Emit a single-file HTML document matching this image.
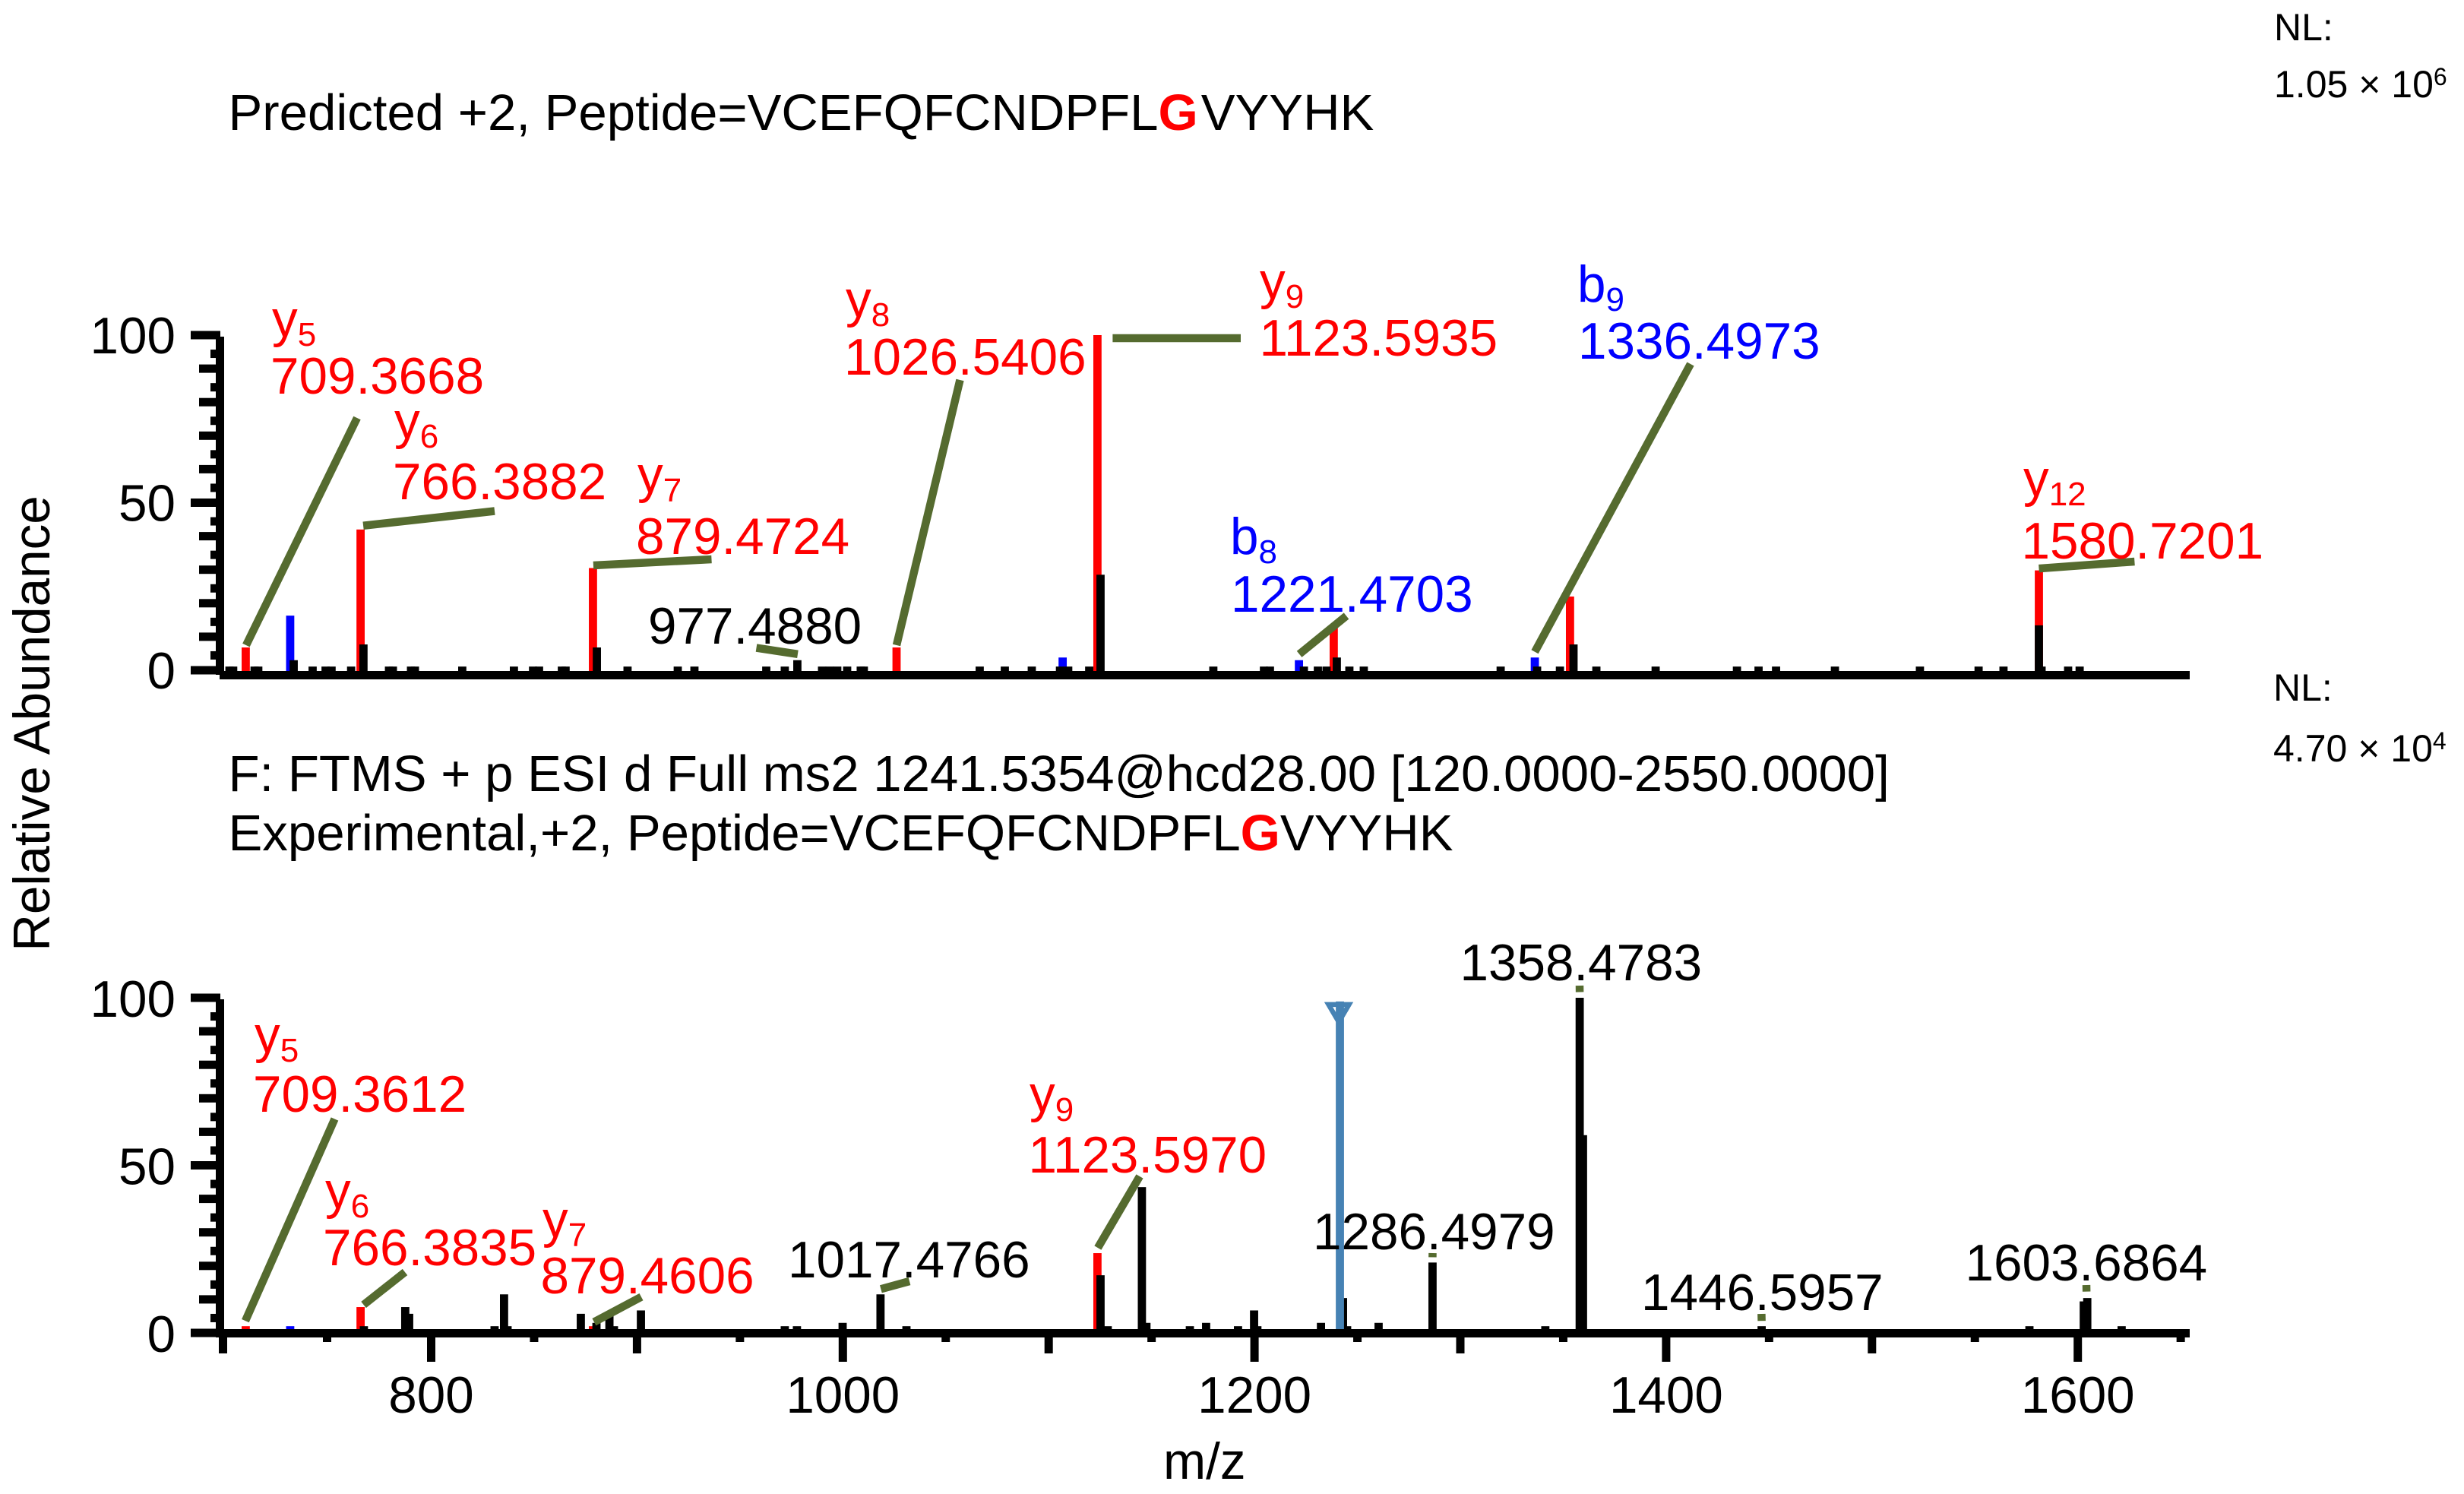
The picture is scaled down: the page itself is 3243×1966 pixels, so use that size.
<!DOCTYPE html>
<html lang="en">
<head>
<meta charset="utf-8">
<title>Predicted and experimental MS2 spectra</title>
<style>
html,body{margin:0;padding:0;background:#fff;width:3243px;height:1966px;overflow:hidden}
svg{display:block;position:absolute;left:0;top:0}
text{font-family:"Liberation Sans",Arial,sans-serif;font-size:67.4px;fill:#000}
text.t{font-size:67.15px}
.r,.r tspan{fill:#f00}
.b,.b tspan{fill:#00f}
.sub{font-size:44px}
.nl{font-size:50px}
</style>
</head>
<body>
<svg id="chart" xmlns="http://www.w3.org/2000/svg" width="3243" height="1966" viewBox="0 0 3243 1966">
<g id="marks"></g>

<text class="t" x="300.5" y="171">Predicted +2, Peptide=VCEFQFCNDPFL<tspan font-weight="bold" fill="#f00" style="fill:#f00">G</tspan><tspan dx="4">VYYHK</tspan></text>
<text class="t" x="300.5" y="1041">F: FTMS + p ESI d Full ms2 1241.5354@hcd28.00 [120.0000-2550.0000]</text>
<text class="t" x="300.5" y="1119">Experimental,+2, Peptide=VCEFQFCNDPFL<tspan font-weight="bold" fill="#f00" style="fill:#f00">G</tspan>VYYHK</text>

<text class="nl" x="2993" y="53">NL:</text>
<text class="nl" x="2993" y="128">1.05 × 10<tspan font-size="32" dy="-16">6</tspan></text>
<text class="nl" x="2992" y="922">NL:</text>
<text class="nl" x="2992" y="1002">4.70 × 10<tspan font-size="32" dy="-16">4</tspan></text>

<text transform="translate(65,952) rotate(-90)" text-anchor="middle">Relative Abundance</text>
<text x="1531" y="1946">m/z</text>

<!-- top panel labels -->
<g>
<text class="r" x="358" y="443">y<tspan class="sub" dy="12">5</tspan></text>
<text class="r" x="356" y="518">709.3668</text>
<text class="r" x="519" y="577">y<tspan class="sub" dy="12">6</tspan></text>
<text class="r" x="517" y="657">766.3882</text>
<text class="r" x="839" y="648">y<tspan class="sub" dy="12">7</tspan></text>
<text class="r" x="837" y="729">879.4724</text>
<text x="853" y="847">977.4880</text>
<text class="r" x="1113" y="417">y<tspan class="sub" dy="12">8</tspan></text>
<text class="r" x="1111" y="493">1026.5406</text>
<text class="r" x="1658" y="393">y<tspan class="sub" dy="12">9</tspan></text>
<text class="r" x="1657.5" y="468">1123.5935</text>
<text class="b" x="1619" y="729">b<tspan class="sub" dy="12">8</tspan></text>
<text class="b" x="1620" y="805">1221.4703</text>
<text class="b" x="2076" y="397">b<tspan class="sub" dy="12">9</tspan></text>
<text class="b" x="2077" y="472">1336.4973</text>
<text class="r" x="2663" y="653">y<tspan class="sub" dy="12">12</tspan></text>
<text class="r" x="2660.5" y="735">1580.7201</text>
</g>

<!-- bottom panel labels -->
<g>
<text class="r" x="335" y="1385">y<tspan class="sub" dy="12">5</tspan></text>
<text class="r" x="333" y="1463">709.3612</text>
<text class="r" x="428" y="1590">y<tspan class="sub" dy="12">6</tspan></text>
<text class="r" x="425" y="1665">766.3835</text>
<text class="r" x="714" y="1628">y<tspan class="sub" dy="12">7</tspan></text>
<text class="r" x="711.5" y="1702">879.4606</text>
<text x="1037" y="1681">1017.4766</text>
<text class="r" x="1355" y="1463">y<tspan class="sub" dy="12">9</tspan></text>
<text class="r" x="1353.5" y="1543">1123.5970</text>
<text x="1921.5" y="1290">1358.4783</text>
<text x="1728" y="1644">1286.4979</text>
<text x="2160" y="1724">1446.5957</text>
<text x="2586.5" y="1685">1603.6864</text>
</g>
</svg>

<script>
// ---------- data ----------
const xTickLabels = [800, 1000, 1200, 1400, 1600];
const yTickLabels = [0, 50, 100];

// top panel
const topRedMz = [709.9, 765.7, 878.6, 1026.1, 1123.7, 1238.5, 1353.3, 1581.1];
const topRedIntensity = [6.8, 42, 30.5, 6.8, 100, 13, 22, 29.8];
const topBlueMz = [731.5, 1106.8, 1221.6, 1336.2];
const topBlueIntensity = [16.3, 3.8, 3, 3.8];
const topBlackMz = [733.2, 767.1, 880.5, 977.9, 1125.2, 1240, 1355, 1581.1,
  702, 703.8, 714.2, 716, 742.4, 748.7, 751.6, 761.1, 779.5, 781.4, 790.2, 792.1,
  815.1, 840.2, 849.5, 852.4, 863.5, 865.3, 895.4, 919.8, 927.9, 962.8, 971.8,
  989.9, 993.6, 997.3, 1002.1, 1008.7, 1010.2, 1066.5, 1078.7, 1091.8, 1105.5,
  1109.5, 1119.7, 1180, 1204.6, 1207.5, 1224, 1230.8, 1235, 1246.1, 1253.1,
  1319.6, 1337.3, 1348.4, 1366.1, 1394.9, 1434.4, 1444.9, 1453.4, 1482, 1523.3,
  1551.8, 1563.9, 1582.4, 1595.3, 1600.9];
const topBlackIntensity = [3, 7.7, 6.8, 3, 28.5, 3.8, 7.7, 13.4,
  1.1, 1.1, 1.1, 1.1, 1.1, 1.1, 1.1, 1.1, 1.1, 1.1, 1.1, 1.1,
  1.1, 1.1, 1.1, 1.1, 1.1, 1.1, 1.1, 1.1, 1.1, 1.1, 1.1,
  1.1, 1.1, 1.1, 1.1, 1.1, 1.1, 1.1, 1.1, 1.1, 1.1,
  1.1, 1.1, 1.1, 1.1, 1.1, 1.1, 1.1, 1.1, 1.1, 1.1,
  1.1, 1.1, 1.1, 1.1, 1.1, 1.1, 1.1, 1.1, 1.1, 1.1,
  1.1, 1.1, 1.1, 1.1, 1.1];

// bottom panel
const bottomRedMz = [709.9, 765.7, 878.6, 1123.7];
const bottomRedIntensity = [2, 7.7, 2, 23.8];
const bottomBlueMz = [731.5];
const bottomBlueIntensity = [2];
const bottomBlackMz = [767.3, 787.4, 789.3, 830.8, 835.4, 837.1, 872.7, 880.3, 886.6,
  888.8, 901.9, 971.8, 977.7, 999.9, 1018.3, 1030.9, 1125.2, 1128.7, 1145.3, 1147.5,
  1168.6, 1176.5, 1192, 1199.8, 1201.4, 1232.3, 1243, 1245, 1260.3, 1286.5, 1341.3,
  1358, 1359.6, 1446.4, 1576.5, 1602.9, 1604.6, 1621.3];
const bottomBlackIntensity = [2, 7.7, 5.7, 2, 11.5, 2, 5.7, 3, 5,
  2, 6.7, 2, 2, 3, 11.5, 2, 17.2, 2, 43.5, 3,
  2, 3, 2, 6.7, 2, 3, 10.4, 2, 3, 21, 2,
  100, 59, 2, 2, 9.4, 10.4, 2];
const precursorMz = [1241.5];
const precursorIntensity = [98.9];

// ---------- callout layout (pixels; separate from the data) ----------
const topCalloutPeaks = [
  [topRedMz, topRedIntensity, 0], [topRedMz, topRedIntensity, 1], [topRedMz, topRedIntensity, 2],
  [topBlackMz, topBlackIntensity, 3], [topRedMz, topRedIntensity, 3], [topRedMz, topRedIntensity, 4],
  [topBlueMz, topBlueIntensity, 2], [topBlueMz, topBlueIntensity, 3], [topRedMz, topRedIntensity, 7]
];
const topCalloutLayout = [
  {dx: 0.5, gap: 3, ex: 470, ey: 550}, {dx: 3.5, gap: 5, ex: 651, ey: 672.5},
  {dx: 0.5, gap: 3.5, ex: 936.5, ey: 736}, {dx: 0.5, gap: 8, ex: 995.5, ey: 852.6},
  {dx: 0, gap: 3, ex: 1263.5, ey: 500}, {dx: 20, gap: -4, ex: 1633, ey: 445},
  {dx: 0.5, gap: 8, ex: 1772, ey: 810.5}, {dx: 0, gap: 7.5, ex: 2225, ey: 479},
  {dx: 0, gap: 2.5, ex: 2809.4, ey: 739}
];
const bottomCalloutPeaks = [
  [bottomRedMz, bottomRedIntensity, 0], [bottomRedMz, bottomRedIntensity, 1], [bottomRedMz, bottomRedIntensity, 2],
  [bottomBlackMz, bottomBlackIntensity, 14], [bottomRedMz, bottomRedIntensity, 3], [bottomBlackMz, bottomBlackIntensity, 29],
  [bottomBlackMz, bottomBlackIntensity, 31], [bottomBlackMz, bottomBlackIntensity, 33], [bottomBlackMz, bottomBlackIntensity, 36]
];
const bottomCalloutLayout = [
  {dx: -0.5, gap: 7, ex: 440.5, ey: 1472.5}, {dx: 4, gap: 3, ex: 533, ey: 1674},
  {dx: 1.5, gap: 5.5, ex: 844, ey: 1706.6}, {dx: 0.5, gap: 7, ex: 1197, ey: 1686},
  {dx: 0.5, gap: 7, ex: 1500, ey: 1548}, {dx: 0, gap: 7, ex: 1885.5, ey: 1649},
  {dx: 0, gap: 7.5, ex: 2079, ey: 1297}, {dx: 0, gap: 7, ex: 2318.4, ey: 1729},
  {dx: -1, gap: 8.5, ex: 2746, ey: 1691}
];

// ---------- axis functions ----------
const SVGNS = 'http://www.w3.org/2000/svg';
const root = document.getElementById('marks');
const OLIVE = '#556B2F';
function xScale(mz) { return 567.5 + (mz - 800) * 2.709; }
function xTickPos(mz) { return mz < 800 ? 567.5 + (mz - 800) * 2.74 : xScale(mz); }
function yTop(v) { return 882 - v * 4.41; }
function yBottom(v) { return 1754 - v * 4.41; }

function mk(tag, attrs, parent) {
  const el = document.createElementNS(SVGNS, tag);
  for (const k in attrs) el.setAttribute(k, attrs[k]);
  (parent || root).appendChild(el);
  return el;
}

function drawBars(mzs, vals, color, yFn, label) {
  for (let i = 0; i < mzs.length; i++) {
    const yy = yFn(vals[i]);
    const el = mk('rect', {x: xScale(mzs[i]) - 5.4, y: yy, width: 10.8, height: yFn(0) - yy + 2, fill: color});
    
    
  }
}

function drawCallouts(peaks, layout, yFn, label) {
  for (let i = 0; i < peaks.length; i++) {
    const p = peaks[i], l = layout[i];
    const el = mk('line', {
      x1: xScale(p[0][p[2]]) + l.dx, y1: yFn(p[1][p[2]]) - l.gap,
      x2: l.ex, y2: l.ey, stroke: OLIVE, 'stroke-width': 10.5
    });
    
    
  }
}

function drawYAxis(yFn, label, labelOffset) {
  const spine = mk('rect', {x: 284, y: yFn(100) + 2, width: 11, height: yFn(0) - yFn(100) + 4, fill: '#000'});
  
  
  for (let v = 0; v <= 100; v += 5) {
    const left = v % 50 === 0 ? 251 : (v % 10 === 0 ? 262 : 277);
    const nudge = v % 10 === 0 ? 0 : 2.5;
    const t = mk('rect', {x: left, y: yFn(v) - 5.5 + nudge, width: 290 - left, height: 11, fill: '#000'});
    
    
  }
  yTickLabels.forEach(function (v) {
    const t = mk('text', {x: 231, y: yFn(v) + labelOffset, 'text-anchor': 'end'});
    t.textContent = String(v);
    
    
  });
}

function drawXLine(yFn, label, h) {
  const l = mk('rect', {x: 289, y: yFn(0) - h, width: 2593, height: 11, fill: '#000'});
  
  
}

// ---------- top panel ----------
drawBars(topRedMz, topRedIntensity, '#f00', yTop, 'top-y-ion-peak');
drawBars(topBlueMz, topBlueIntensity, '#00f', yTop, 'top-b-ion-peak');
drawBars(topBlackMz, topBlackIntensity, '#000', yTop, 'top-peak');
drawYAxis(yTop, 'top', 24);
drawXLine(yTop, 'top', -1);
drawCallouts(topCalloutPeaks, topCalloutLayout, yTop, 'top-label-leader');

// ---------- bottom panel ----------
drawBars(bottomRedMz, bottomRedIntensity, '#f00', yBottom, 'bottom-y-ion-peak');
drawBars(bottomBlueMz, bottomBlueIntensity, '#00f', yBottom, 'bottom-b-ion-peak');
drawBars(bottomBlackMz, bottomBlackIntensity, '#000', yBottom, 'bottom-peak');
drawBars(precursorMz, precursorIntensity, '#4682B4', yBottom, 'precursor-line');
const pX = xScale(precursorMz[0]) - 1.5;
const pY = yBottom(precursorIntensity[0]);
const marker = mk('polygon', {
  points: (pX - 13.5) + ',' + (pY + 4) + ' ' + (pX + 13.5) + ',' + (pY + 4) + ' ' + pX + ',' + (pY + 27),
  fill: 'none', stroke: '#4682B4', 'stroke-width': 6.5
});


drawYAxis(yBottom, 'bottom', 25);
drawXLine(yBottom, 'bottom', 5);
for (let m = 700; m <= 1650; m += 50) {
  const bottom = m % 200 === 0 ? 1792 : (m % 100 === 0 ? 1781 : 1766);
  const t = mk('rect', {x: xTickPos(m) - 5.5, y: 1759, width: 11, height: bottom - 1759, fill: '#000'});
  
  
}
xTickLabels.forEach(function (v) {
  const t = mk('text', {x: xScale(v), y: 1859, 'text-anchor': 'middle'});
  t.textContent = String(v);
  
  
});
drawCallouts(bottomCalloutPeaks, bottomCalloutLayout, yBottom, 'bottom-label-leader');
</script>
</body>
</html>
